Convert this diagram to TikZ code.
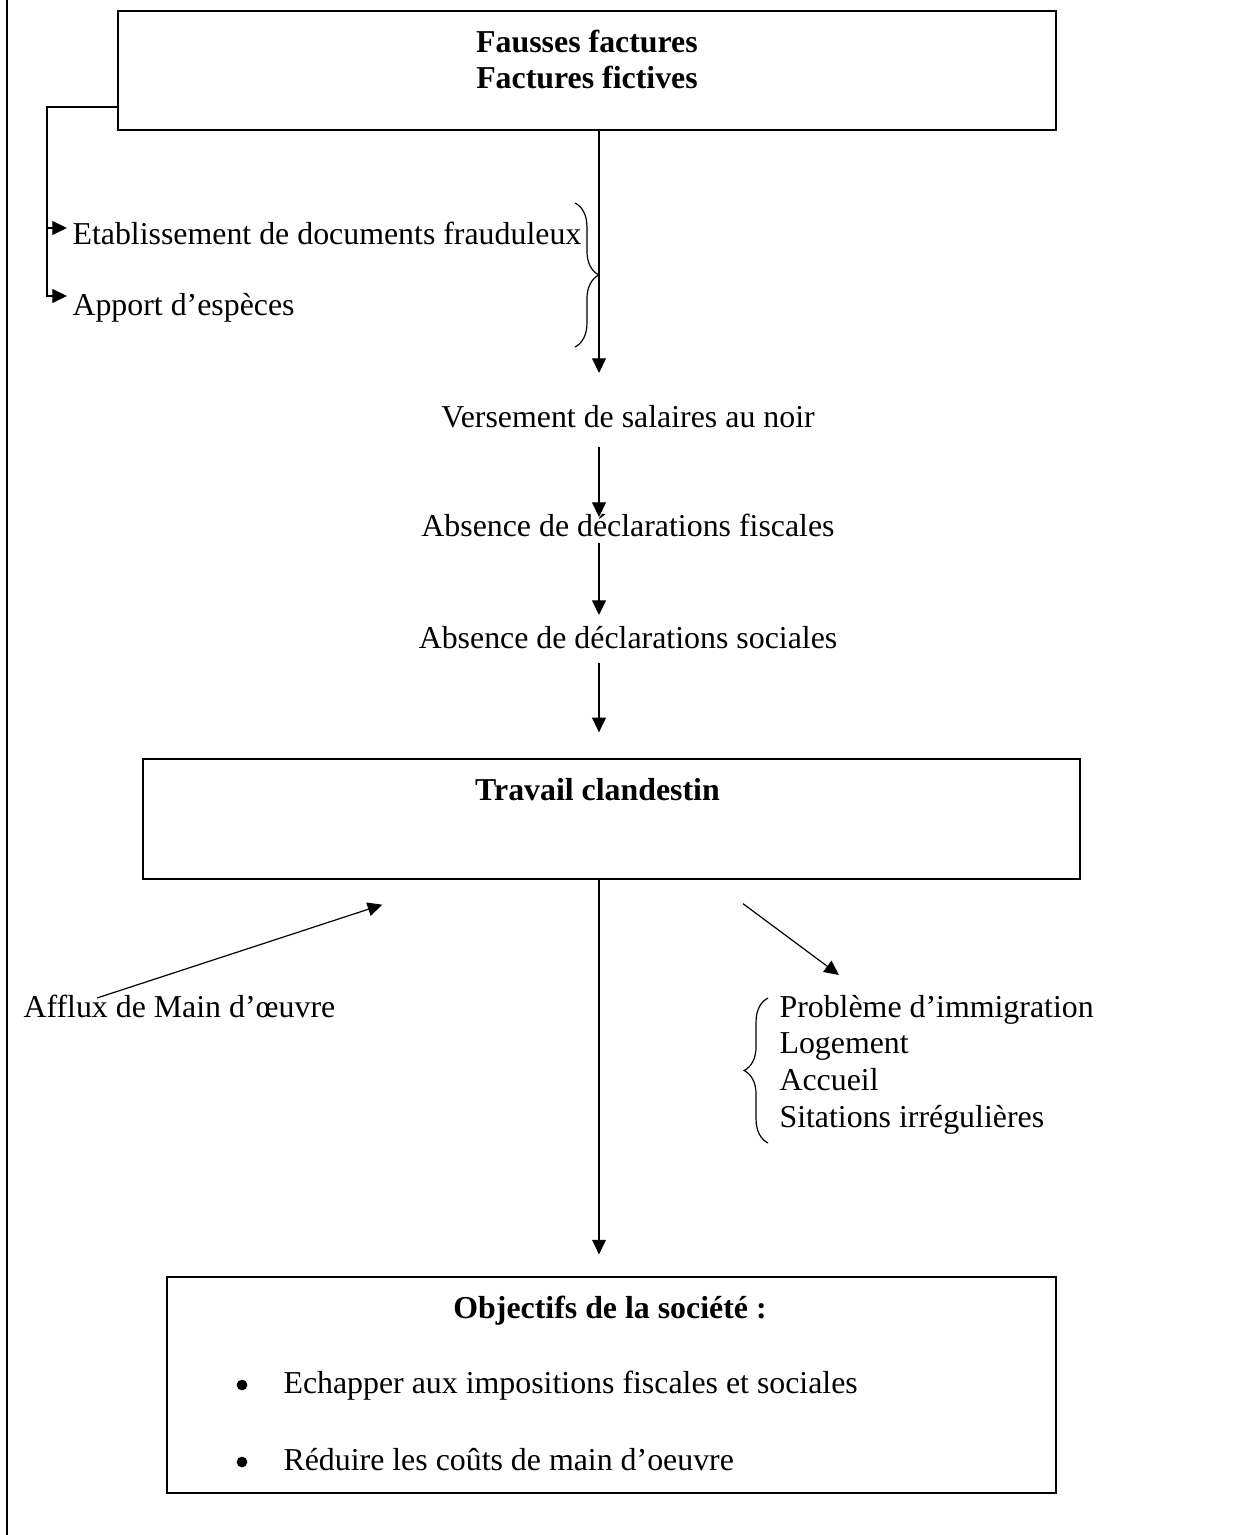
\documentclass[tikz,border=0pt]{standalone}
\usepackage{fontspec}
\setmainfont{Liberation Serif}
\usetikzlibrary{arrows.meta, decorations.pathreplacing, calc, positioning}
\tikzstyle{box} = [rectangle, draw=black, line width=0.5pt, inner sep=0pt]
\tikzstyle{txt} = [inner sep=0pt, font=\fontsize{12}{13.8}\selectfont]
\tikzstyle{title} = [inner sep=0pt, font=\fontsize{12}{13.8}\selectfont\bfseries, align=center]
\tikzstyle{puce} = [circle, fill=black, draw=black, inner sep=0pt, minimum size=3.6pt]
\tikzstyle{arrow} = [line width=0.45pt,-{Triangle[length=5.5pt,width=5.2pt]}]
\tikzstyle{accolade} = [line width=0.45pt, decorate, decoration={brace, amplitude=9pt}]

\begin{document}
\begin{tikzpicture}[x=0.3766pt, y=-0.3766pt]
\useasboundingbox (0,0) rectangle (1247,1535);
\draw [line width=0.8pt] (7,0) -- (7,1535);
\coordinate (axis) at (599,0);
\coordinate (branch) at (47,107);

% top box
\node (fausses) [box, minimum width=353.3pt, minimum height=44.8pt] at (587,70.5) {};
\node (faussestxt) [title, anchor=base] at (587,89) {Fausses factures\\Factures fictives};

\node (etab) [txt, anchor=base west] at (72,245) {Etablissement de documents frauduleux};
\node (apport) [txt, anchor=base west] at (72,316) {Apport d’espèces};

\node (versement) [txt, anchor=base] at (628,428) {Versement de salaires au noir};
\node (fiscales) [txt, anchor=base] at (628,537) {Absence de déclarations fiscales};
\node (sociales) [txt, anchor=base] at (628,648) {Absence de déclarations sociales};

% middle box
\node (travail) [box, minimum width=352.9pt, minimum height=45.2pt] at (611.5,819) {};
\node (travailtxt) [title, anchor=base] at (597.5,800) {Travail clandestin};

\node (afflux) [txt, anchor=base west] at (23,1017) {Afflux de Main d’œuvre};
\node (probleme) [txt, anchor=base west, align=left] at (779,1127)
  {Problème d’immigration\\Logement\\Accueil\\Sitations irrégulières};

% bottom box
\node (objectifs) [box, minimum width=334.8pt, minimum height=81.3pt] at (611.5,1385) {};
\node (objectifstxt) [title, anchor=base] at (610,1318) {Objectifs de la société :};
\node (puce1) [puce] at (242,1385) {};
\node (but1) [txt, anchor=base west] at (283,1393) {Echapper aux impositions fiscales et sociales};
\node (puce2) [puce] at (242,1462) {};
\node (but2) [txt, anchor=base west] at (283,1470) {Réduire les coûts de main d’oeuvre};

% connectors
\draw [arrow] (branch -| fausses.west) -- (branch) |- ($(apport.base west)+(-5,-20)$);
\draw [arrow] ($(branch |- etab.base)+(0,-17)$) -- ($(etab.base west)+(-5,-17)$);
\draw [accolade] (575,203) -- (575,347);
\draw [arrow] (fausses.south -| axis) -- ($(versement.base -| axis)+(0,-55)$);
\draw [arrow] ($(versement.base -| axis)+(0,19)$) -- ($(fiscales.base -| axis)+(0,-20)$);
\draw [arrow] ($(fiscales.base -| axis)+(0,6)$) -- ($(sociales.base -| axis)+(0,-33)$);
\draw [arrow] ($(sociales.base -| axis)+(0,15)$) -- ($(travail.north -| axis)+(0,-26)$);
\draw [arrow] (travail.south -| axis) -- ($(objectifs.north -| axis)+(0,-22)$);
\draw [arrow] ($(afflux.base west)+(74,-19)$) -- ($(travail.south west)+(240,25)$);
\draw [arrow] ($(travail.south)+(131.5,24)$) -- ($(probleme.base west)+(60,-152)$);
\draw [accolade] (768,1143) -- (768,998);

\end{tikzpicture}
\end{document}
